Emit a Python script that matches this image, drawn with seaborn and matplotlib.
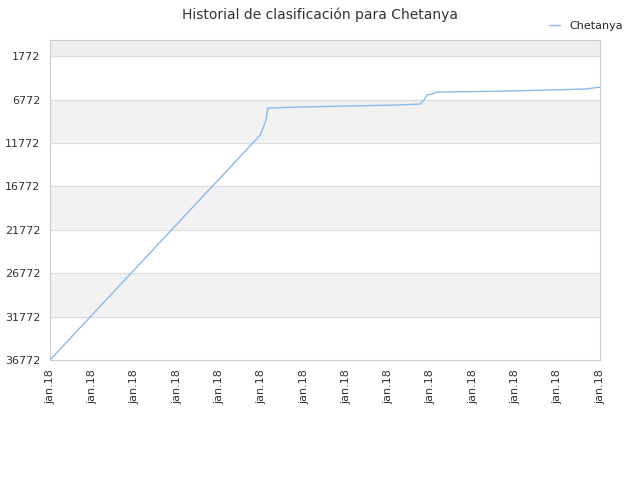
import matplotlib
matplotlib.use("Agg")
import matplotlib.pyplot as plt
import seaborn as sns
import pandas as pd

days = [0, 210, 213, 216, 218, 220, 245, 293, 343, 370, 374, 377, 382, 386, 458, 535, 543, 550]
ranks = [36772, 10900, 10100, 9140, 7760, 7760, 7650, 7530, 7420, 7300, 6840, 6260, 6150, 5920, 5800, 5570, 5450, 5340]
yticks = [1772, 6772, 11772, 16772, 21772, 26772, 31772, 36772]
xtick_labels = ["jan.18"] * 14

df = pd.DataFrame({"day": days, "rank": ranks})
sns.set_style("white")
plt.rcParams['font.family'] = ['DejaVu Sans']
fig, ax = plt.subplots(figsize=(6.4, 4.8), dpi=100)
fig.subplots_adjust(left=0.078, right=0.9375, top=0.917, bottom=0.25)

ax.axhspan(-100, 1772, color="#eeeeee", zorder=0)
for lo in [6772, 16772, 26772]:
    ax.axhspan(lo, lo + 5000, color="#f2f2f2", zorder=0)
for t in yticks:
    ax.axhline(t, color="#dddddd", lw=0.8, zorder=1)

sns.lineplot(data=df, x="day", y="rank", ax=ax, color="#88bbee", lw=1, label="Chetanya", zorder=3)
ax.set_xlim(0, 550)
ax.set_ylim(36772, -100)
ax.set_yticks(yticks)
ax.set_yticklabels([str(t) for t in yticks], fontsize=8, color="#333333")
xt = [i * 550 / 13 for i in range(14)]
ax.set_xticks(xt)
ax.set_xticklabels(xtick_labels, rotation=90, fontsize=8, color="#333333")
ax.tick_params(axis="x", length=3, color="#cccccc")
ax.set_xlabel("")
ax.set_ylabel("")
for s in ax.spines.values():
    s.set_color("#cccccc")
ax.legend(loc="upper right", bbox_to_anchor=(1.06, 1.09), frameon=False, fontsize=8, handlelength=1)
fig.suptitle("Historial de clasificación para Chetanya", x=0.5, y=0.985, fontsize=10, color="#333333")
fig.savefig("out.png", dpi=100)
